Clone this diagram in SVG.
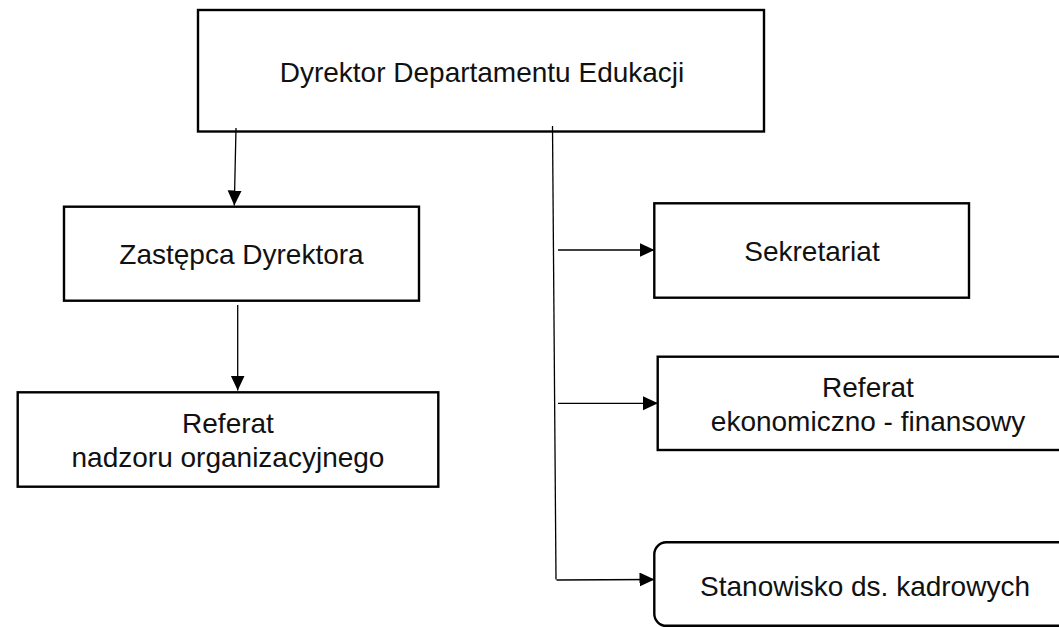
<svg xmlns="http://www.w3.org/2000/svg" width="1059" height="627" viewBox="0 0 1059 627">
<style>
.box{fill:#fff;stroke:#000;stroke-width:2.4}
.lbl{font-family:"Liberation Sans",Arial,sans-serif;font-size:28px;fill:#111;text-anchor:middle}
.con{fill:none;stroke:#000;stroke-width:1.3}
</style>
<defs>
<marker id="arr" markerUnits="userSpaceOnUse" markerWidth="16" markerHeight="15" refX="15" refY="7" orient="auto">
<path d="M0,0 L15,7 L0,14 z" fill="#000"/>
</marker>
</defs>
<rect width="1059" height="627" fill="#fff"/>
<g id="n-dyrektor">
<rect class="box" x="198" y="10" width="566" height="121.5"/>
<text class="lbl" x="482" y="82">Dyrektor Departamentu Edukacji</text>
</g>
<g id="n-zastepca">
<rect class="box" x="64" y="206.7" width="355" height="94"/>
<text class="lbl" x="241.5" y="264">Zastępca Dyrektora</text>
</g>
<g id="n-nadzor">
<rect class="box" x="17.7" y="392.3" width="420.6" height="94.4"/>
<text class="lbl" x="228" y="433">Referat</text>
<text class="lbl" x="228" y="467">nadzoru organizacyjnego</text>
</g>
<g id="n-sekretariat">
<rect class="box" x="654.3" y="203.3" width="314.7" height="94.4"/>
<text class="lbl" x="812" y="261">Sekretariat</text>
</g>
<g id="n-ekonom">
<rect class="box" x="657.7" y="356.7" width="420" height="93.3"/>
<text class="lbl" x="868" y="397">Referat</text>
<text class="lbl" x="868" y="431">ekonomiczno - finansowy</text>
</g>
<g id="n-kadry">
<rect class="box" x="654.3" y="542.3" width="430" height="83.5" rx="12" ry="12"/>
<text class="lbl" x="865" y="596">Stanowisko ds. kadrowych</text>
</g>
<g id="connectors">
<line class="con" x1="236" y1="128" x2="234.3" y2="205.5" marker-end="url(#arr)"/>
<line class="con" x1="237.7" y1="305" x2="237.7" y2="390.5" marker-end="url(#arr)"/>
<line class="con" x1="552.5" y1="126" x2="556" y2="579.5"/>
<line class="con" x1="558" y1="250" x2="654.5" y2="250" marker-end="url(#arr)"/>
<line class="con" x1="558" y1="403.3" x2="658" y2="403.3" marker-end="url(#arr)"/>
<line class="con" x1="556.5" y1="580" x2="654.5" y2="579.5" marker-end="url(#arr)"/>
</g>
</svg>
